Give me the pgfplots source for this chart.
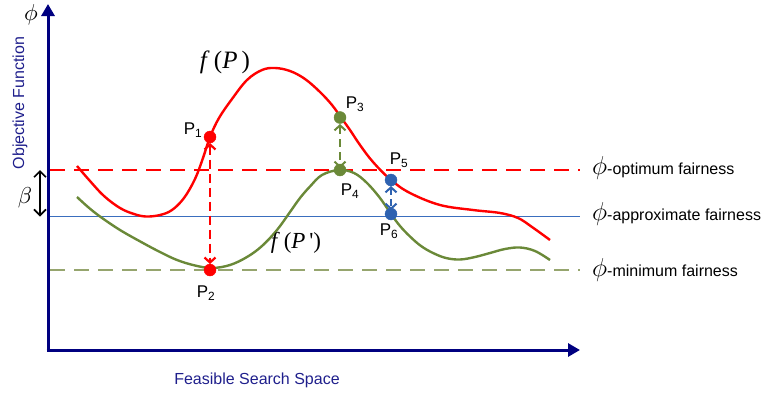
\documentclass[border=0pt]{standalone}
\usepackage{pgfplots}
\pgfplotsset{compat=1.18}
\usetikzlibrary{arrows.meta}
\usepackage{fontspec}
\setmainfont{Liberation Sans}
\newfontfamily\timesfont{Liberation Serif}

\definecolor{axisnavy}{RGB}{0,0,128}
\definecolor{textnavy}{RGB}{31,31,140}
\definecolor{fred}{RGB}{255,0,0}
\definecolor{olive}{RGB}{106,137,56}
\definecolor{olivedash}{RGB}{150,165,110}
\definecolor{approxblue}{RGB}{58,110,190}
\definecolor{ptblue}{RGB}{46,98,176}

\begin{document}
\begin{tikzpicture}
\begin{axis}[
  hide axis, scale only axis, clip=false,
  width=768pt, height=399pt,
  xmin=0, xmax=768, ymin=0, ymax=399, y dir=reverse,
]
% bounding frame (invisible)
\path (rel axis cs:0,0) rectangle (rel axis cs:1,1);

% coordinate axes
\addplot[axisnavy, line width=3pt, -{Triangle[length=12pt,width=13pt]}]
  coordinates {(48,350) (48,4)};
\addplot[axisnavy, line width=3pt, -{Triangle[length=12pt,width=13pt]}]
  coordinates {(46.5,350) (580,350)};

% fairness levels
\addplot[fred, line width=1.6pt, dash pattern=on 15pt off 9pt]
  coordinates {(50,170) (580,170)};
\addplot[approxblue, line width=1.4pt]
  coordinates {(50,216.5) (580,216.5)};
\addplot[olivedash, line width=2pt, dash pattern=on 15pt off 9pt]
  coordinates {(50,270) (580,270)};

% beta gap
\addplot[black, line width=1.6pt, {Straight Barb[length=6pt,width=12pt]}-{Straight Barb[length=6pt,width=12pt]}]
  coordinates {(40,170) (40,216.5)};

% f(P)
\addplot[fred, line width=2.4pt, smooth, tension=0.6] coordinates {
  (77,166) (90,181) (104,196) (120,208) (134,214) (146,216.5) (160,215)
  (172,210) (184,198) (195,179) (203,158)
  (210,137) (219,118) (232,99) (247,80) (262,70) (275,68) (290,71) (305,79) (320,92)
  (332,105) (341,117.5) (350,130) (360,145) (373,162) (391,180) (410,193) (440,205)
  (473,210) (500,213) (518,218) (532,227) (550,240)};

% f(P')
\addplot[olive, line width=2.4pt, smooth, tension=0.6] coordinates {
  (77,197) (88,207) (100,216.5) (120,230) (143,243) (160,252) (177,260) (195,265.5)
  (212,268) (230,265) (247,257) (262,246) (277,230) (290,212) (300,198) (310,186.5)
  (322,175) (339,170) (354,173) (367,183) (380,198) (391,214) (400,226)
  (410,236.5) (421,246) (433,253) (446,258) (460,259.5) (475,257) (490,253) (505,249)
  (520,247.5) (535,251) (550,260)};

% vertical moves between the curves
\addplot[fred, line width=2.2pt, dash pattern=on 9pt off 5pt,
  {Straight Barb[length=5pt,width=11pt]}-{Straight Barb[length=5pt,width=11pt]}]
  coordinates {(210,143) (210,264)};
\addplot[olive, line width=2pt, dash pattern=on 8pt off 5pt,
  {Straight Barb[length=5pt,width=11pt]}-{Straight Barb[length=5pt,width=11pt]}]
  coordinates {(340,124) (340,168)};
\addplot[ptblue, line width=2pt, dash pattern=on 7pt off 4pt,
  {Straight Barb[length=5pt,width=11pt]}-{Straight Barb[length=5pt,width=11pt]}]
  coordinates {(391,186) (391,210)};

% points
\addplot[only marks, mark=*, mark size=6pt, fred, mark options={fill=fred, draw=fred}]
  coordinates {(210,137) (210,270)};
\addplot[only marks, mark=*, mark size=6pt, olive, mark options={fill=olive, draw=olive}]
  coordinates {(340,117.5) (340,170)};
\addplot[only marks, mark=*, mark size=6pt, ptblue, mark options={fill=ptblue, draw=ptblue}]
  coordinates {(391,180) (391,214)};

% labels
\node[font=\fontsize{17}{20}\selectfont] at (axis cs:193,130) {P\textsubscript{1}};
\node[font=\fontsize{17}{20}\selectfont] at (axis cs:206,293) {P\textsubscript{2}};
\node[font=\fontsize{17}{20}\selectfont] at (axis cs:355,104) {P\textsubscript{3}};
\node[font=\fontsize{17}{20}\selectfont] at (axis cs:350,191) {P\textsubscript{4}};
\node[font=\fontsize{17}{20}\selectfont] at (axis cs:399,160) {P\textsubscript{5}};
\node[font=\fontsize{17}{20}\selectfont] at (axis cs:389,231) {P\textsubscript{6}};

\node[font=\fontsize{25}{28}\selectfont\timesfont] at (axis cs:225,62)
  {\textit{f}\,(\textit{P}\,)};
\node[font=\fontsize{23}{26}\selectfont\timesfont] at (axis cs:296,243)
  {\textit{f}\,(\textit{P}\,')};

\node[inner sep=0pt] at (axis cs:31,15) {\scalebox{2.3}{$\phi$}};
\node[inner sep=0pt] at (axis cs:25,198) {\scalebox{2.3}{$\beta$}};

\node[font=\fontsize{16}{19}\selectfont, text=textnavy, rotate=90] at (axis cs:20,103)
  {Objective Function};
\node[font=\fontsize{16}{19}\selectfont, text=textnavy] at (axis cs:257,380)
  {Feasible Search Space};

\node[anchor=west, inner sep=0pt, font=\fontsize{16}{19}\selectfont] at (axis cs:592,168)
  {\scalebox{1.5}{$\phi$}-optimum fairness};
\node[anchor=west, inner sep=0pt, font=\fontsize{16}{19}\selectfont] at (axis cs:592,214)
  {\scalebox{1.5}{$\phi$}-approximate fairness};
\node[anchor=west, inner sep=0pt, font=\fontsize{16}{19}\selectfont] at (axis cs:592,270)
  {\scalebox{1.5}{$\phi$}-minimum fairness};
\end{axis}
\end{tikzpicture}
\end{document}
